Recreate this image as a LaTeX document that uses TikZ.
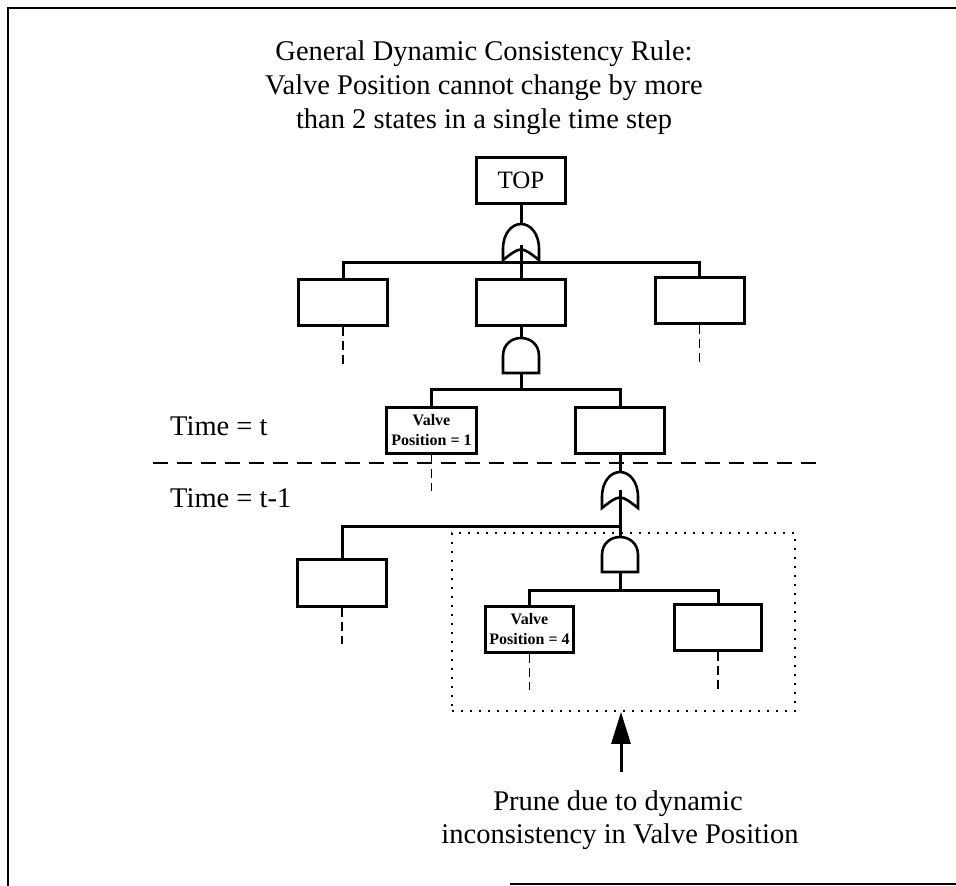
\documentclass[tikz,border=0pt]{standalone}
\usepackage{fontspec}
\setmainfont{Liberation Serif}
\usetikzlibrary{arrows.meta}
\begin{document}
\begin{tikzpicture}[x=1pt,y=-1pt,
  frame/.style={line width=2.6pt},
  box/.style={draw, line width=3pt, inner sep=0pt, minimum width=89pt, minimum height=46pt},
  vbox/.style={box, align=center, font=\fontsize{16}{20}\selectfont\bfseries},
  conn/.style={line width=3pt},
  gateline/.style={line width=2.6pt},
  stub/.style={line width=1.6pt, dash pattern=on 9pt off 5pt},
  divider/.style={line width=1.8pt, dash pattern=on 15pt off 9pt},
  prunestyle/.style={draw, line width=1.8pt, dash pattern=on 1.8pt off 7.2pt, inner sep=0pt},
  bigtext/.style={font=\fontsize{28.5}{34}\selectfont, inner sep=0pt},
  orgate/.pic={\draw[gateline] (-18,36) -- (-18,25) .. controls (-18,9) and (-9,0) .. (0,0)
      .. controls (9,0) and (18,9) .. (18,25) -- (18,36) .. controls (0,22) .. (-18,36) -- cycle;},
  andgate/.pic={\draw[gateline] (-18,35) -- (-18,18) .. controls (-18,6) and (-9,0) .. (0,0)
      .. controls (9,0) and (18,6) .. (18,18) -- (18,35) -- cycle;}
]
\useasboundingbox (0,0) rectangle (956,886);

% frame
\draw[frame] (956,8) -- (8,8) -- (8,886);
\draw[frame] (510,884) -- (956,884);

% title
\node[bigtext, anchor=base] (title1) at (484,60) {General Dynamic Consistency Rule:};
\node[bigtext, anchor=base] (title2) at (484,94) {Valve Position cannot change by more};
\node[bigtext, anchor=base] (title3) at (484,128) {than 2 states in a single time step};

% time labels and divider
\node[bigtext, anchor=base west] (tt) at (170,435) {Time = t};
\node[bigtext, anchor=base west] (tt1) at (170,507) {Time = t-1};
\coordinate (dl) at (153,463);
\coordinate (dr) at (823,463);
\draw[divider] (dl) -- (dr);

% boxes
\node[box, font=\fontsize{25}{25}\selectfont] (TOP) at (521,180.5) {TOP};
\node[box] (L1) at (343,302.5) {};
\node[box] (M1) at (521,302.5) {};
\node[box] (R1) at (699.5,300.5) {};
\node[vbox, minimum width=90pt] (V1) at (431.5,430) {Valve\\Position = 1};
\node[box] (R2) at (620,430) {};
\node[box, minimum height=47pt] (L3) at (342,583) {};
\node[vbox, minimum width=88pt] (V4) at (529.5,629) {Valve\\Position = 4};
\node[box, minimum width=87pt] (R4) at (718,627.5) {};

% gates
\pic at (521,224) {orgate};
\pic at (521,338) {andgate};
\pic at (620,472) {orgate};
\pic at (620,537) {andgate};
\coordinate (g1top) at (521,224);
\coordinate (g1base) at (521,245);
\coordinate (g1bus) at (521,262);
\coordinate (g2top) at (521,338);
\coordinate (g2base) at (521,373);
\coordinate (g2bus) at (521,389);
\coordinate (g3top) at (620,472);
\coordinate (g3base) at (620,490);
\coordinate (g3bus) at (620,526);
\coordinate (g4top) at (620,537);
\coordinate (g4base) at (620,572);
\coordinate (g4bus) at (620,590);

% connectors
\draw[conn] (TOP.south) -- (g1top);
\draw[conn] (g1base) -- (M1.north);
\draw[conn] (L1.north) |- (g1bus) -| (R1.north);
\draw[conn] (M1.south) -- (g2top);
\draw[conn] (g2base) -- (g2bus);
\draw[conn] (V1.north) |- (g2bus) -| (R2.north);
\draw[conn] (R2.south) -- (g3top);
\draw[conn] (g3base) -- (g4top);
\draw[conn] (L3.north) |- (g3bus);
\draw[conn] (g4base) -- (g4bus);
\draw[conn] (V4.north) |- (g4bus) -| (R4.north);

% stubs
\draw[stub] (L1.south) -- ++(0,37);
\draw[stub] (R1.south) -- ++(0,37);
\draw[stub] (V1.south) -- ++(0,36);
\draw[stub] (L3.south) -- ++(0,36);
\draw[stub] (V4.south) -- ++(0,36);
\draw[stub] (R4.south) -- ++(0,38);

% prune box and arrow
\node[prunestyle, minimum width=343pt, minimum height=178pt] (prune) at (623.5,622) {};
\coordinate (arrowstart) at (621,772);
\draw[line width=3pt, -{Triangle[length=32pt,width=19pt]}] (arrowstart) -- (arrowstart |- prune.south);

\node[bigtext, anchor=base] (pr1) at (618,810) {Prune due to dynamic};
\node[bigtext, anchor=base] (pr2) at (620,843) {inconsistency in Valve Position};
\end{tikzpicture}
\end{document}
